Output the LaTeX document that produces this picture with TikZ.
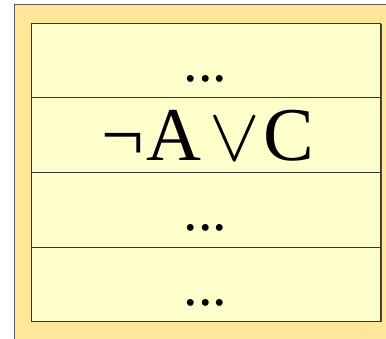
\documentclass[tikz,border=0pt]{standalone}
\usepackage{fontspec}
\usepackage{graphicx}
\setmainfont{Liberation Serif}
\definecolor{outerfill}{HTML}{FFE699}
\definecolor{innerfill}{HTML}{FFFFCC}
\definecolor{edgegray}{HTML}{5A5A5A}
\tikzset{
  rowbox/.style={draw=black!80, line width=0.9pt, fill=innerfill, inner sep=0pt,
    minimum width=349pt, anchor=north west},
  dotstext/.style={anchor=base, inner sep=0pt, font=\fontsize{58}{58}\selectfont},
  bigtext/.style={anchor=base, inner sep=0pt, font=\fontsize{76}{76}\selectfont},
}
\begin{document}
\begin{tikzpicture}[x=1pt,y=1pt]
\useasboundingbox (0,0) rectangle (386,-339);
\clip (0,0) rectangle (386,-339);
% outer panel
\fill[outerfill] (14.5,-5) rectangle (400,-350);
\draw[edgegray, line width=1pt] (14.5,-350) -- (14.5,-5) -- (400,-5);
% shadow of inner box
\fill[black!70] (32.5,-24.5) rectangle (381.5,-322.5);
% rows
\node[rowbox, minimum height=74pt] (r1) at (31,-23) {};
\node[rowbox, minimum height=75pt] (r2) at (31,-97) {};
\node[rowbox, minimum height=75pt] (r3) at (31,-172) {};
\node[rowbox, minimum height=74pt] (r4) at (31,-247) {};
\node[dotstext] (t1) at (205.5,-82) {...};
\node[bigtext] (t2) at (208,-161) {¬\kern2ptA\kern8pt\scalebox{3.05}{$\vee$}\kern4ptC};
\node[dotstext] (t3) at (205.5,-231) {...};
\node[dotstext] (t4) at (205.5,-306) {...};
\end{tikzpicture}
\end{document}
